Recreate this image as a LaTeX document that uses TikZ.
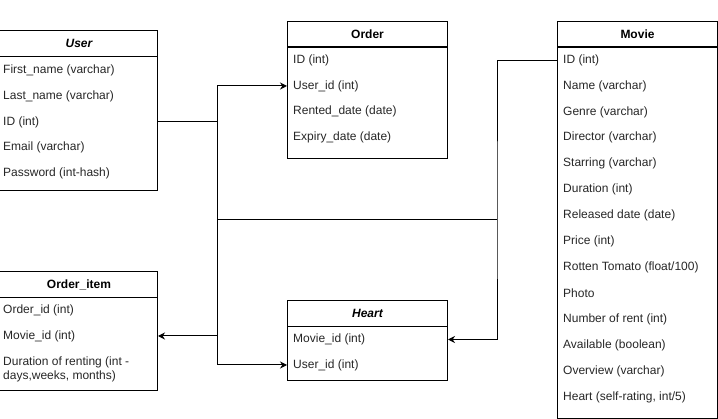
\documentclass[tikz,border=0pt]{standalone}
\usepackage{fontspec}
\setmainfont{Liberation Sans}
\usepackage{tikz}
\usetikzlibrary{positioning, arrows.meta}

\newcommand{\erfont}{\fontsize{12}{14}\selectfont}

\tikzset{
  tblhead/.style={draw, line width=1pt, anchor=north west, minimum width=#1, minimum height=26pt, inner sep=0pt, font=\erfont\bfseries},
  tblbody/.style={draw, line width=1pt, anchor=north west, minimum width=160pt, minimum height=#1, inner sep=0pt},
  row/.style={anchor=west, inner sep=0pt, text=black!85, font=\erfont},
  link/.style={line width=1pt},
  fk/.style={line width=1pt, -{Stealth[length=7pt,width=7pt]}}
}

\begin{document}
\begin{tikzpicture}[x=1pt,y=-1pt]
\useasboundingbox (0,0) rectangle (718,419);
% User
\node[tblhead=159pt, font=\erfont\bfseries\itshape] (user) at (-2,30) {\hspace*{2pt}User};
\node[tblbody=134pt, minimum width=159pt] (userb) at (-2,56) {};
\node[row] (ufirst) at (3,70) {First\_name (varchar)};
\node[row] (ulast) at (3,96) {Last\_name (varchar)};
\node[row] (uid) at (3,122) {ID (int)};
\node[row] (umail) at (3,147.5) {Email (varchar)};
\node[row] (upass) at (3,173) {Password (int-hash)};
% Order
\node[tblhead=160pt] (order) at (287,21) {Order};
\node[tblbody=112pt] (orderb) at (287,46) {};
\node[row] (oid) at (293,60.5) {ID (int)};
\node[row] (ouid) at (293,86) {User\_id (int)};
\node[row] (orent) at (293,111.5) {Rented\_date (date)};
\node[row] (oexp) at (293,137) {Expiry\_date (date)};
% Movie
\node[tblhead=160pt] (movie) at (557,21) {Movie};
\node[tblbody=372pt] (movieb) at (557,46) {};
\node[row] (mid) at (563,60.5) {ID (int)};
\node[row] (mname) at (563,86) {Name (varchar)};
\node[row] (mgenre) at (563,112) {Genre (varchar)};
\node[row] (mdir) at (563,137.5) {Director (varchar)};
\node[row] (mstar) at (563,163.5) {Starring (varchar)};
\node[row] (mdur) at (563,189.5) {Duration (int)};
\node[row] (mrel) at (563,215.5) {Released date (date)};
\node[row] (mprice) at (563,241.5) {Price (int)};
\node[row] (mrot) at (563,267.5) {Rotten Tomato (float/100)};
\node[row] (mphoto) at (563,293.5) {Photo};
\node[row] (mnum) at (563,319.5) {Number of rent (int)};
\node[row] (mavail) at (563,345.5) {Available (boolean)};
\node[row] (mover) at (563,371.5) {Overview (varchar)};
\node[row] (mheart) at (563,397.5) {Heart (self-rating, int/5)};
% Order_item
\node[tblhead=159pt] (oitem) at (-2,271) {\hspace*{2pt}Order\_item};
\node[tblbody=93pt, minimum width=159pt] (oitemb) at (-2,297) {};
\node[row] (ioid) at (3,310.5) {Order\_id (int)};
\node[row] (imid) at (3,336) {Movie\_id (int)};
\node[row, align=left] (idur) at (3,369.5) {Duration of renting (int -\\days,weeks, months)};
% Heart
\node[tblhead=160pt, font=\erfont\bfseries\itshape] (heart) at (287,300) {Heart};
\node[tblbody=54pt] (heartb) at (287,326) {};
\node[row] (hmid) at (293,339.5) {Movie\_id (int)};
\node[row] (huid) at (293,365) {User\_id (int)};
% connectors
\coordinate (ubus) at (217,220);
\coordinate (mbus) at (497,220);
\draw[fk] (userb.east |- uid) -- (ubus |- uid) |- (orderb.west |- ouid);
\draw[fk] (ubus |- uid) -- (ubus |- huid) -- (heartb.west |- huid);
\draw[fk] (ubus |- imid) -- (oitemb.east |- imid);
\draw[link] (ubus) -- (mbus);
\draw[fk] (movieb.west |- mid) -| (mbus) |- (heartb.east |- hmid);
\end{tikzpicture}
\end{document}
